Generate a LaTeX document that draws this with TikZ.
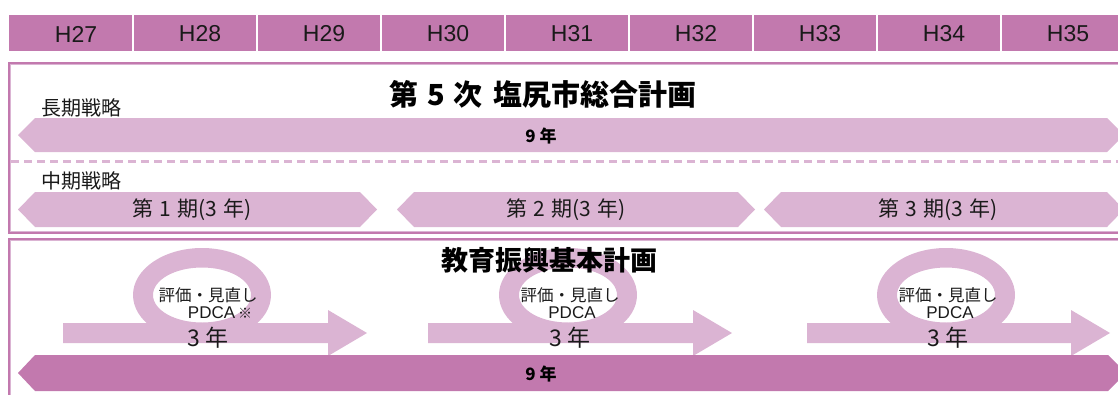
\documentclass[tikz,border=0pt]{standalone}
\usepackage{fontspec}
\setmainfont{Noto Sans CJK JP}
\newfontfamily\lat{Liberation Sans}
\definecolor{hdr}{HTML}{C279AE}
\definecolor{lite}{HTML}{DBB4D3}
\definecolor{ink}{HTML}{1A1A1A}
\tikzset{
  yearlbl/.style={text=ink,font=\lat\fontsize{23}{25}\selectfont,inner sep=0pt},
  titlelbl/.style={text=black,font=\bfseries\fontsize{29}{32}\selectfont,inner sep=0pt},
  sublbl/.style={text=ink,font=\fontsize{20}{22}\selectfont,inner sep=0pt,anchor=west},
  boldlbl/.style={text=black,font=\bfseries\fontsize{17}{19}\selectfont,inner sep=0pt},
  perlbl/.style={text=ink,font=\fontsize{21}{23}\selectfont,inner sep=0pt},
  looplbl/.style={text=ink,font=\fontsize{16.5}{18}\selectfont,inner sep=0pt,align=center},
  threelbl/.style={text=ink,font=\fontsize{23}{25}\selectfont,inner sep=0pt},
  hexa/.style={fill=lite},
}
\begin{document}
\begin{tikzpicture}[x=1pt,y=-1pt]
\useasboundingbox (0,0) rectangle (1118,394);
\clip (0,0) rectangle (1118,394);
% header
\fill[hdr] (9,15) rectangle (1118,51);
\foreach \xx in {133,257,381,505,629,753,877,1001}
  \draw[white,line width=1.6pt] (\xx,15) -- (\xx,51);
\foreach \i/\lbl in {0/H27,1/H28,2/H29,3/H30,4/H31,5/H32,6/H33,7/H34,8/H35}
  \node[yearlbl] (hd\i) at ({76+124*\i},34) {\lbl};
% box 1
\draw[hdr,line width=2pt] (1125,63) -- (9,63) -- (9,233) -- (1125,233);
\draw[lite,line width=1.2pt] (1125,64.6) -- (10.6,64.6) -- (10.6,231.4) -- (1125,231.4);
% box 2
\draw[hdr,line width=2pt] (1125,238.5) -- (9,238.5) -- (9,400);
\draw[lite,line width=1.2pt] (1125,240.1) -- (10.6,240.1) -- (10.6,400);
% title 1
\node[titlelbl] (t1) at (543,94) {第\hspace{9pt}5\hspace{9pt}次\hspace{11pt}塩尻市総合計画};
\node[sublbl] (lt) at (41,108) {長期戦略};
% long arrow
\fill[hexa] (18,135) -- (35,118) -- (1107,118) -- (1124,135) -- (1107,152) -- (35,152) -- cycle;
\node[boldlbl] (n9a) at (541,136) {9 年};
% dashed line
\draw[lite,line width=3pt,dash pattern=on 8pt off 5pt] (11,161) -- (1118,161);
\node[sublbl] (mt) at (41,181) {中期戦略};
% periods
\fill[hexa] (18,209.5) -- (35,192) -- (360,192) -- (377,209.5) -- (360,227) -- (35,227) -- cycle;
\fill[hexa] (397,209.5) -- (414,192) -- (738,192) -- (755,209.5) -- (738,227) -- (414,227) -- cycle;
\fill[hexa] (764,209.5) -- (781,192) -- (1107,192) -- (1124,209.5) -- (1107,227) -- (781,227) -- cycle;
\node[perlbl] (p1) at (192,210) {第\hspace{6pt}1\hspace{6pt}期(3\hspace{6pt}年)};
\node[perlbl] (p2) at (566,210) {第\hspace{6pt}2\hspace{6pt}期(3\hspace{6pt}年)};
\node[perlbl] (p3) at (938,210) {第\hspace{6pt}3\hspace{6pt}期(3\hspace{6pt}年)};
% loops and arrows
\foreach \cx/\bx/\hx/\tx [count=\k] in {202/63/328/367, 568/428/693/732, 946/807/1071/1110}{
  \fill[lite,even odd rule] (\cx,295) ellipse [x radius=69, y radius=47]
                            (\cx,295) ellipse [x radius=49, y radius=27.5];
  \fill[lite] (\bx,323) -- (\hx,323) -- (\hx,310) -- (\tx,333) -- (\hx,356) -- (\hx,343) -- (\bx,343) -- cycle;
}
% title 2
\node[titlelbl,font=\bfseries\fontsize{27}{30}\selectfont] (t2) at (549,260) {教育振興基本計画};
\node[looplbl] (e1) at (208,295) {評価・見直し};
\node[looplbl,font=\lat\fontsize{17}{19}\selectfont] (d1) at (220,313) {PDCA\,{\fontspec{Noto Sans CJK JP}\fontsize{14}{16}\selectfont ※}};
\node[threelbl] (y1) at (208,338) {3\hspace{5pt}年};
\node[looplbl] (e2) at (570,295) {評価・見直し};
\node[looplbl,font=\lat\fontsize{17}{19}\selectfont] (d2) at (572,313) {PDCA};
\node[threelbl] (y2) at (570,338) {3\hspace{5pt}年};
\node[looplbl] (e3) at (948,295) {評価・見直し};
\node[looplbl,font=\lat\fontsize{17}{19}\selectfont] (d3) at (950,313) {PDCA};
\node[threelbl] (y3) at (948,338) {3\hspace{5pt}年};
% bottom bar
\fill[hdr] (18,373) -- (35,355) -- (1108,355) -- (1126,373) -- (1108,391) -- (35,391) -- cycle;
\node[boldlbl] (n9b) at (541,374) {9 年};
\end{tikzpicture}
\end{document}
